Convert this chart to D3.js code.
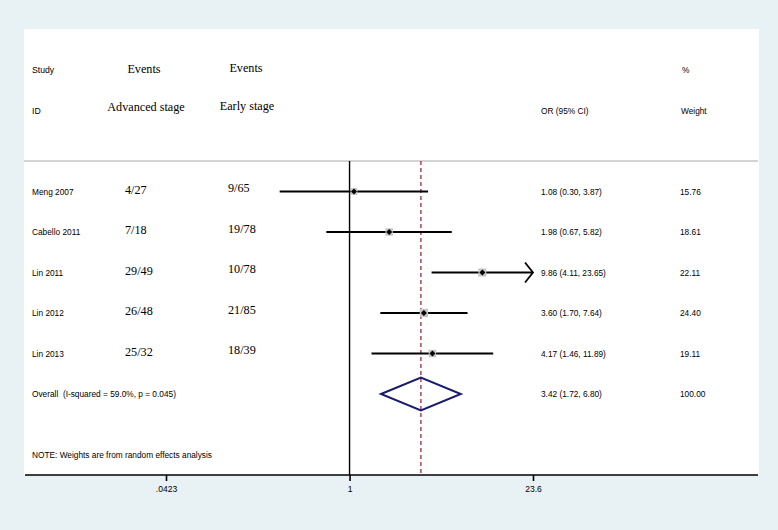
<!DOCTYPE html>
<html>
<head>
<meta charset="utf-8">
<script src="https://cdn.jsdelivr.net/npm/d3@7"></script>
<style>
  html, body { margin: 0; padding: 0; background: #e8f1f4; }
  svg { display: block; }
  text { white-space: pre; }
</style>
</head>
<body>
<svg id="chart" width="778" height="530"></svg>
<script>
// ---- data ----
const studies = ["Meng 2007", "Cabello 2011", "Lin 2011", "Lin 2012", "Lin 2013"];
const eventsAdvanced = ["4/27", "7/18", "29/49", "26/48", "25/32"];
const eventsEarly = ["9/65", "19/78", "10/78", "21/85", "18/39"];
const orValues = [1.08, 1.98, 9.86, 3.60, 4.17];
const ciLower = [0.30, 0.67, 4.11, 1.70, 1.46];
const ciUpper = [3.87, 5.82, 23.65, 7.64, 11.89];
const weights = [15.76, 18.61, 22.11, 24.40, 19.11];
const orLabels = ["1.08 (0.30, 3.87)", "1.98 (0.67, 5.82)", "9.86 (4.11, 23.65)", "3.60 (1.70, 7.64)", "4.17 (1.46, 11.89)"];
const weightLabels = ["15.76", "18.61", "22.11", "24.40", "19.11"];
const overallLabel = "Overall  (I-squared = 59.0%, p = 0.045)";
const overallOR = 3.42, overallLo = 1.72, overallHi = 6.80;
const overallORLabel = "3.42 (1.72, 6.80)";
const overallWeightLabel = "100.00";
const tickValues = [0.0423, 1, 23.6];
const tickLabels = [".0423", "1", "23.6"];
const note = "NOTE: Weights are from random effects analysis";

// ---- layout ----
const svg = d3.select("#chart");
const sans = "Liberation Sans, Arial, sans-serif";
const serif = "Liberation Serif, Times New Roman, serif";
const sSize = 8.3, rSize = 12.2;

const panel = { x0: 24, x1: 759, y0: 29, y1: 475 };
const headerLineY = 161;

const x = d3.scaleLog().domain([tickValues[0], tickValues[2]]).range([166, 533]);
const rowKeys = d3.range(studies.length + 1);
const y = d3.scalePoint().domain(rowKeys).range([191.5, 394]);
const boxSize = d3.scaleSqrt().domain([0, 100]).range([0, 17]);

// background panel
svg.append("rect").attr("x", panel.x0).attr("y", panel.y0)
  .attr("width", panel.x1 - panel.x0).attr("height", panel.y1 - panel.y0)
  .attr("fill", "#ffffff");

// header separator
svg.append("line").attr("x1", panel.x0).attr("x2", panel.x1 - 1)
  .attr("y1", headerLineY).attr("y2", headerLineY)
  .attr("stroke", "#a8a8a8").attr("stroke-width", 1);

function txt(t, xx, yy, font, size, anchor) {
  return svg.append("text").attr("x", xx).attr("y", yy)
    .attr("font-family", font).attr("font-size", size)
    .attr("text-anchor", anchor || "start").attr("dominant-baseline", "central")
    .attr("fill", "#000").text(t);
}
// headers
txt("Study", 32, 70, sans, sSize + 0.4);
txt("ID", 32, 111, sans, sSize + 0.4);
txt("Events", 144, 69, serif, rSize, "middle");
txt("Advanced stage", 146, 107, serif, rSize, "middle");
txt("Events", 246, 68, serif, rSize, "middle");
txt("Early stage", 247, 106, serif, rSize, "middle");
txt("OR (95% CI)", 541, 111, sans, sSize);
txt("%", 682, 70, sans, sSize);
txt("Weight", 681, 111, sans, sSize);

// reference lines
svg.append("line").attr("x1", x(1)).attr("x2", x(1))
  .attr("y1", headerLineY).attr("y2", panel.y1)
  .attr("stroke", "#000").attr("stroke-width", 1.4);
svg.append("line").attr("x1", x(overallOR)).attr("x2", x(overallOR))
  .attr("y1", headerLineY).attr("y2", panel.y1)
  .attr("stroke", "#a0283c").attr("stroke-width", 1.3)
  .attr("stroke-dasharray", "4,3");

// study rows
const dom = x.domain();
studies.forEach((s, i) => {
  const yy = y(i);
  txt(s, 32, yy, sans, sSize);
  txt(eventsAdvanced[i], 125, yy - 2, serif, rSize);
  txt(eventsEarly[i], 228, yy - 3.5, serif, rSize);
  txt(orLabels[i], 541, yy, sans, sSize);
  txt(weightLabels[i], 680, yy, sans, sSize);

  const lo = Math.max(ciLower[i], dom[0]);
  const hi = Math.min(ciUpper[i], dom[1]);
  svg.append("line").attr("x1", x(lo)).attr("x2", x(hi))
    .attr("y1", yy).attr("y2", yy)
    .attr("stroke", "#000").attr("stroke-width", 2);
  if (ciUpper[i] > dom[1]) {
    const tx = x(dom[1]);
    svg.append("path")
      .attr("d", `M${tx - 8},${yy - 10} L${tx},${yy} L${tx - 8},${yy + 10}`)
      .attr("fill", "none").attr("stroke", "#000").attr("stroke-width", 1.8);
  }
  const b = boxSize(weights[i]);
  svg.append("rect").attr("x", x(orValues[i]) - b / 2).attr("y", yy - b / 2)
    .attr("width", b).attr("height", b).attr("fill", "#c4c4c4");
  const cx = x(orValues[i]);
  svg.append("path")
    .attr("d", `M${cx},${yy - 3} L${cx + 3},${yy} L${cx},${yy + 3} L${cx - 3},${yy} Z`)
    .attr("fill", "#000");
});

// overall
const oy = y(studies.length);
txt(overallLabel, 32, oy, sans, sSize);
txt(overallORLabel, 541, oy, sans, sSize);
txt(overallWeightLabel, 680, oy, sans, sSize);
svg.append("path")
  .attr("d", `M${x(overallLo)},${oy} L${x(overallOR)},${oy - 16.5} L${x(overallHi)},${oy} L${x(overallOR)},${oy + 16.5} Z`)
  .attr("fill", "none").attr("stroke", "#1a1a6e").attr("stroke-width", 2);

// note
txt(note, 32, 455, sans, sSize);

// axis
const axis = d3.axisBottom(x).tickValues(tickValues)
  .tickFormat((d, i) => tickLabels[i]).tickSize(6).tickSizeOuter(0);
const g = svg.append("g").attr("transform", `translate(0,${panel.y1})`).call(axis);
g.select(".domain").remove();
g.append("line").attr("x1", 25).attr("x2", 758).attr("y1", 0).attr("y2", 0)
  .attr("stroke", "#000").attr("stroke-width", 1.6);
g.selectAll(".tick line").attr("stroke", "#000").attr("stroke-width", 1.6);
g.selectAll(".tick text").attr("font-family", sans).attr("font-size", sSize + 0.2)
  .attr("fill", "#000").attr("dy", "0.9em");
</script>
</body>
</html>
